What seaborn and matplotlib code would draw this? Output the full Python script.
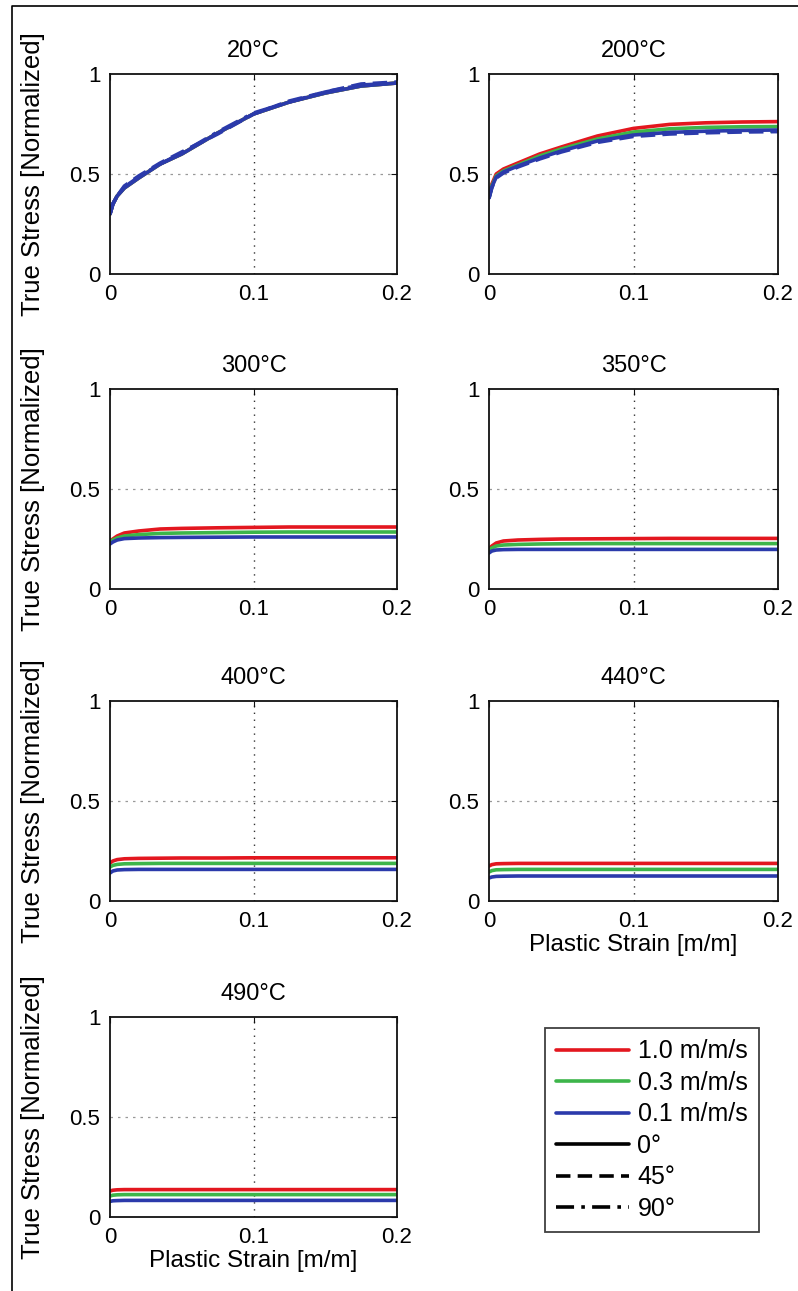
import matplotlib.pyplot as plt
from matplotlib.lines import Line2D
import pandas as pd
import seaborn as sns

strain = [0, 0.002, 0.005, 0.01, 0.02, 0.035, 0.05, 0.075, 0.1, 0.125, 0.15, 0.175, 0.2]

temps = ['20°C', '200°C', '300°C', '350°C', '400°C', '440°C', '490°C']
rates = ['1.0 m/m/s', '0.3 m/m/s', '0.1 m/m/s']
angles = ['0°', '45°', '90°']

# 0 deg curves, one list per rate (1.0, 0.3, 0.1 m/m/s)
t20 = [
    [0.30, 0.35, 0.39, 0.43, 0.48, 0.55, 0.60, 0.705, 0.80, 0.86, 0.905, 0.94, 0.955],
    [0.30, 0.35, 0.39, 0.43, 0.48, 0.55, 0.60, 0.705, 0.80, 0.86, 0.905, 0.94, 0.955],
    [0.30, 0.35, 0.39, 0.43, 0.48, 0.55, 0.60, 0.705, 0.80, 0.86, 0.905, 0.94, 0.955],
]
t200 = [
    [0.387, 0.45, 0.50, 0.525, 0.555, 0.60, 0.635, 0.69, 0.728, 0.748, 0.756, 0.76, 0.762],
    [0.385, 0.44, 0.49, 0.515, 0.545, 0.59, 0.625, 0.675, 0.71, 0.726, 0.733, 0.736, 0.737],
    [0.38, 0.435, 0.485, 0.51, 0.54, 0.58, 0.615, 0.665, 0.695, 0.708, 0.714, 0.718, 0.72],
]
t300 = [
    [0.24, 0.25, 0.265, 0.28, 0.29, 0.30, 0.303, 0.306, 0.308, 0.31, 0.31, 0.31, 0.31],
    [0.235, 0.245, 0.255, 0.265, 0.272, 0.278, 0.28, 0.282, 0.284, 0.285, 0.285, 0.285, 0.285],
    [0.225, 0.235, 0.245, 0.252, 0.255, 0.257, 0.258, 0.259, 0.26, 0.26, 0.26, 0.26, 0.26],
]
t350 = [
    [0.20, 0.215, 0.23, 0.24, 0.245, 0.248, 0.25, 0.251, 0.252, 0.253, 0.253, 0.253, 0.253],
    [0.195, 0.205, 0.215, 0.22, 0.223, 0.225, 0.226, 0.227, 0.227, 0.227, 0.227, 0.227, 0.227],
    [0.18, 0.19, 0.195, 0.197, 0.198, 0.198, 0.198, 0.198, 0.198, 0.198, 0.198, 0.198, 0.198],
]
t400 = [
    [0.19, 0.20, 0.207, 0.211, 0.213, 0.214, 0.215, 0.215, 0.216, 0.216, 0.216, 0.216, 0.216],
    [0.17, 0.178, 0.183, 0.186, 0.187, 0.188, 0.188, 0.188, 0.188, 0.188, 0.188, 0.188, 0.188],
    [0.14, 0.15, 0.155, 0.157, 0.158, 0.158, 0.158, 0.158, 0.158, 0.158, 0.158, 0.158, 0.158],
]
t440 = [
    [0.175, 0.182, 0.186, 0.187, 0.188, 0.188, 0.188, 0.188, 0.188, 0.188, 0.188, 0.188, 0.188],
    [0.145, 0.152, 0.156, 0.157, 0.158, 0.158, 0.158, 0.158, 0.158, 0.158, 0.158, 0.158, 0.158],
    [0.115, 0.12, 0.123, 0.124, 0.125, 0.125, 0.125, 0.125, 0.125, 0.125, 0.125, 0.125, 0.125],
]
t490 = [
    [0.13, 0.134, 0.136, 0.137, 0.137, 0.137, 0.137, 0.137, 0.137, 0.137, 0.137, 0.137, 0.137],
    [0.105, 0.109, 0.111, 0.112, 0.112, 0.112, 0.112, 0.112, 0.112, 0.112, 0.112, 0.112, 0.112],
    [0.078, 0.081, 0.082, 0.083, 0.083, 0.083, 0.083, 0.083, 0.083, 0.083, 0.083, 0.083, 0.083],
]

# orientation curves that show apart from the 0 deg ones
t20_blue_45 = [0.30, 0.35, 0.39, 0.44, 0.49, 0.555, 0.61, 0.70, 0.80, 0.865, 0.91, 0.95, 0.96]
t20_blue_90 = [0.30, 0.35, 0.39, 0.435, 0.485, 0.55, 0.605, 0.71, 0.805, 0.86, 0.91, 0.945, 0.955]
t200_green_45 = [0.383, 0.44, 0.488, 0.512, 0.54, 0.585, 0.618, 0.663, 0.695, 0.707, 0.712, 0.714, 0.715]
t200_blue_45 = [0.378, 0.432, 0.48, 0.505, 0.535, 0.575, 0.61, 0.658, 0.688, 0.7, 0.706, 0.71, 0.712]

colors = {'1.0 m/m/s': '#e3171f', '0.3 m/m/s': '#3db54a', '0.1 m/m/s': '#2b3aab'}
dash_map = {'0°': '', '45°': (4, 2), '90°': (5, 2, 1, 2)}

rows = []
def add(temp, rate, angle, values):
    for x, y in zip(strain, values):
        rows.append({'temp': temp, 'rate': rate, 'angle': angle, 'strain': x, 'stress': y})

for temp, curves in zip(temps, [t20, t200, t300, t350, t400, t440, t490]):
    for rate, vals in zip(rates, curves):
        add(temp, rate, '0°', vals)
add('20°C', '0.1 m/m/s', '45°', t20_blue_45)
add('20°C', '0.1 m/m/s', '90°', t20_blue_90)
add('200°C', '0.3 m/m/s', '45°', t200_green_45)
add('200°C', '0.1 m/m/s', '45°', t200_blue_45)
df = pd.DataFrame(rows)

sns.set_style('white')
plt.rcParams['font.family'] = ['Liberation Sans', 'DejaVu Sans']
plt.rcParams['text.color'] = 'black'
plt.rcParams['axes.labelcolor'] = 'black'
plt.rcParams['xtick.color'] = 'black'
plt.rcParams['ytick.color'] = 'black'

W, H = 798, 1291
fig = plt.figure(figsize=(W / 100, H / 100), dpi=100)

col_x = [(110, 287), (489, 289)]
row_top = [74, 389, 701, 1017]
ax_h = 200

for i, temp in enumerate(temps):
    r, c = divmod(i, 2)
    x0, w = col_x[c]
    ax = fig.add_axes([x0 / W, 1 - (row_top[r] + ax_h) / H, w / W, ax_h / H])
    sub = df[df['temp'] == temp]
    sns.lineplot(data=sub, x='strain', y='stress', hue='rate', style='angle',
                 hue_order=rates, style_order=[a for a in angles if a in sub['angle'].unique()],
                 palette=colors, dashes=dash_map, linewidth=2.6, legend=False,
                 estimator=None, sort=False, ax=ax)
    ax.set_xlim(0, 0.2)
    ax.set_ylim(0, 1)
    ax.set_xticks([0, 0.1, 0.2])
    ax.set_xticklabels(['0', '0.1', '0.2'])
    ax.set_yticks([0, 0.5, 1])
    ax.set_yticklabels(['0', '0.5', '1'])
    ax.axvline(0.1, color='#333333', linestyle=(0, (1, 4)), linewidth=1.0, zorder=0)
    ax.axhline(0.5, color='#999999', linestyle=(0, (2, 4)), linewidth=0.9, zorder=0)
    ax.tick_params(axis='both', labelsize=16, direction='in', length=4,
                   top=True, right=True, pad=7, color='#111111')
    for sp in ax.spines.values():
        sp.set_color('#111111')
        sp.set_linewidth(1.3)
    ax.set_title(temp, fontsize=17, pad=12)
    if c == 0:
        ax.set_ylabel('True Stress [Normalized]', fontsize=18.5)
        ax.yaxis.set_label_coords(-0.226, 0.5)
    else:
        ax.set_ylabel('')
    if temp in ('440°C', '490°C'):
        ax.set_xlabel('Plastic Strain [m/m]', fontsize=17.5, labelpad=2)
    else:
        ax.set_xlabel('')

handles = [Line2D([], [], color=colors[r], linewidth=2.6) for r in rates]
handles += [Line2D([], [], color='black', linewidth=2.6, linestyle='-'),
            Line2D([], [], color='black', linewidth=2.6, linestyle=(0, (4, 2))),
            Line2D([], [], color='black', linewidth=2.6, linestyle=(0, (5, 2, 1, 2)))]
leg = fig.legend(handles, rates + angles, loc='upper left',
                 bbox_to_anchor=(545 / W, 1 - 1028 / H), fontsize=18,
                 handlelength=2.9, handletextpad=0.35, labelspacing=0.3,
                 borderpad=0.45, frameon=True, fancybox=False, borderaxespad=0)
leg.get_frame().set_edgecolor('#111111')
leg.get_frame().set_linewidth(1.3)

# outer frame lines from the source figure crop
fig.add_artist(Line2D([12 / W, 12 / W, 1], [0, 1 - 6 / H, 1 - 6 / H],
                      transform=fig.transFigure, color='black', linewidth=1.2))

fig.savefig('out.png', dpi=100)
